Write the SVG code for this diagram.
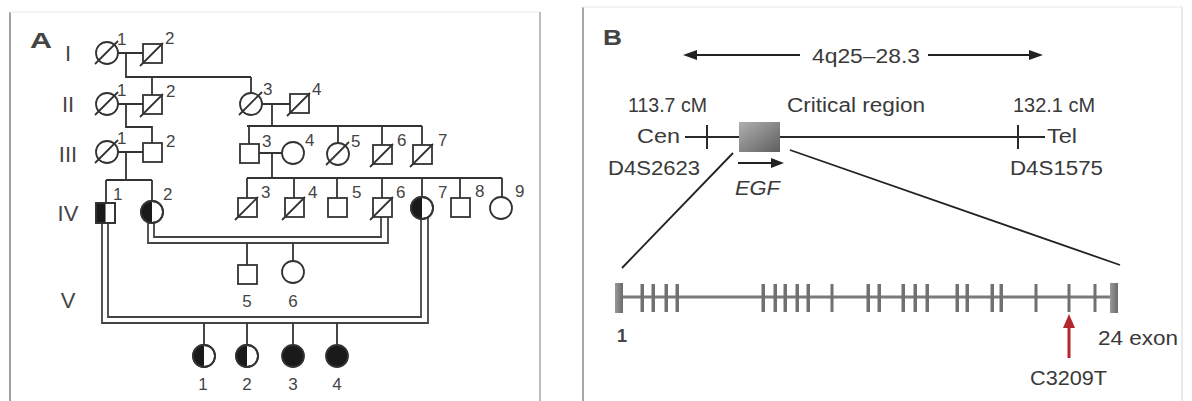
<svg xmlns="http://www.w3.org/2000/svg" width="1192" height="401" viewBox="0 0 1192 401">
<defs>
<style>
.sym{fill:#fff;stroke:#333;stroke-width:1.8}
.blk{fill:#1a1a1a;stroke:none}
.ln{stroke:#333;stroke-width:1.8;fill:none}
.dbl{stroke:#444;stroke-width:1.8;fill:none}
.t{font-family:"Liberation Sans",Arial,sans-serif;fill:#444}
.lbl{font-size:17px}
.gen{font-size:22px;text-anchor:middle}
.num{font-size:17px;text-anchor:middle}
.b{font-size:20px;fill:#3a3a3a}
.tick{fill:#707070}
</style>
<linearGradient id="gbox" x1="0" y1="0" x2="1" y2="1">
<stop offset="0" stop-color="#b0b0b0"/>
<stop offset="1" stop-color="#5e5e5e"/>
</linearGradient>
<linearGradient id="gex" x1="0" y1="0" x2="1" y2="0">
<stop offset="0" stop-color="#999"/>
<stop offset="1" stop-color="#6a6a6a"/>
</linearGradient>
</defs>
<rect width="1192" height="401" fill="#fff"/>

<!-- panel frames -->
<g id="frames">
<line x1="10" y1="12" x2="10" y2="401" stroke="#a0a0a0" stroke-width="2"/>
<line x1="10" y1="12" x2="540" y2="12" stroke="#f0f0f0" stroke-width="1.5"/>
<line x1="540" y1="12" x2="540" y2="401" stroke="#bdbdbd" stroke-width="2"/>
<line x1="583" y1="7" x2="583" y2="401" stroke="#a8a8a8" stroke-width="2"/>
<line x1="583" y1="7" x2="1182" y2="7" stroke="#f0f0f0" stroke-width="1.5"/>
<line x1="1182" y1="7" x2="1182" y2="401" stroke="#e2e2e2" stroke-width="1.5"/>
</g>

<!-- Panel A labels -->
<g id="panelA-labels">
<text class="t" x="30" y="48" font-size="22" font-weight="bold" fill="#222" textLength="22" lengthAdjust="spacingAndGlyphs">A</text>
<text class="t gen" x="68" y="61">I</text>
<text class="t gen" x="68" y="112">II</text>
<text class="t gen" x="68" y="162">III</text>
<text class="t gen" x="68" y="221">IV</text>
<text class="t gen" x="68" y="308">V</text>
</g>

<!-- connectors -->
<g id="connectors">
<path class="ln" d="M118,53H143M126,53V77H251M152,77V95M251,77V93"/>
<path class="ln" d="M118,104H143M126,104V127H152V143"/>
<path class="ln" d="M262,104H290M272,104V126M247,126H422M249,126V144M338,126V143M382,126V145M422,126V145"/>
<path class="ln" d="M118,152H143M126,152V180M106,180H152M106,180V203M152,180V201"/>
<path class="ln" d="M259,153H282M272,153V178M247,178H502M247,178V198M294,178V198M337,178V198M382,178V198M422,178V197M460,178V198M502,178V197"/>
<path class="dbl" d="M148,222V243H388V217"/>
<path class="dbl" d="M154,223V237H381V217"/>
<path class="ln" d="M247,243V265M293,243V261"/>
<path class="dbl" d="M102,223V323H428V217"/>
<path class="dbl" d="M108,223V317H421V219"/>
<path class="ln" d="M204,323V345M247,323V345M293,323V345M337,323V345"/>
</g>

<!-- Generation I -->
<g id="I-1"><circle class="sym" cx="107" cy="53" r="11"/><line class="ln" x1="95" y1="64" x2="118" y2="41"/><text class="t lbl" x="117" y="45">1</text></g>
<g id="I-2"><rect class="sym" x="143" y="44" width="19" height="19"/><line class="ln" x1="140" y1="66" x2="163" y2="43"/><text class="t lbl" x="165" y="44">2</text></g>

<!-- Generation II -->
<g id="II-1"><circle class="sym" cx="107" cy="104" r="11"/><line class="ln" x1="95" y1="115" x2="118" y2="92"/><text class="t lbl" x="117" y="96">1</text></g>
<g id="II-2"><rect class="sym" x="143" y="95" width="19" height="19"/><line class="ln" x1="140" y1="117" x2="163" y2="94"/><text class="t lbl" x="166" y="97">2</text></g>
<g id="II-3"><circle class="sym" cx="251" cy="104" r="11"/><line class="ln" x1="239" y1="115" x2="262" y2="92"/><text class="t lbl" x="263" y="95">3</text></g>
<g id="II-4"><rect class="sym" x="290" y="94" width="19" height="19"/><line class="ln" x1="287" y1="116" x2="310" y2="93"/><text class="t lbl" x="312" y="95">4</text></g>

<!-- Generation III -->
<g id="III-1"><circle class="sym" cx="107" cy="152" r="11"/><line class="ln" x1="95" y1="163" x2="118" y2="140"/><text class="t lbl" x="117" y="144">1</text></g>
<g id="III-2"><rect class="sym" x="143" y="143" width="19" height="19"/><text class="t lbl" x="166" y="147">2</text></g>
<g id="III-3"><rect class="sym" x="240" y="144" width="19" height="19"/><text class="t lbl" x="262" y="147">3</text></g>
<g id="III-4"><circle class="sym" cx="293" cy="153" r="11"/><text class="t lbl" x="305" y="146">4</text></g>
<g id="III-5"><circle class="sym" cx="338" cy="154" r="11"/><line class="ln" x1="326" y1="165" x2="349" y2="142"/><text class="t lbl" x="351" y="147">5</text></g>
<g id="III-6"><rect class="sym" x="373" y="145" width="19" height="19"/><line class="ln" x1="370" y1="167" x2="393" y2="144"/><text class="t lbl" x="397" y="146">6</text></g>
<g id="III-7"><rect class="sym" x="413" y="145" width="19" height="19"/><line class="ln" x1="410" y1="167" x2="433" y2="144"/><text class="t lbl" x="438" y="146">7</text></g>

<!-- Generation IV -->
<g id="IV-1"><rect class="sym" x="96" y="203" width="19" height="20"/><rect class="blk" x="96" y="203" width="9.5" height="20"/><rect x="96" y="203" width="19" height="20" fill="none" stroke="#333" stroke-width="1.8"/><text class="t lbl" x="113" y="200">1</text></g>
<g id="IV-2"><circle class="sym" cx="152" cy="212" r="11"/><path class="blk" d="M152,201A11,11 0 0 0 152,223Z"/><circle cx="152" cy="212" r="11" fill="none" stroke="#333" stroke-width="1.8"/><text class="t lbl" x="163" y="200">2</text></g>
<g id="IV-3"><rect class="sym" x="238" y="198" width="19" height="19"/><line class="ln" x1="235" y1="220" x2="258" y2="197"/><text class="t lbl" x="261" y="198">3</text></g>
<g id="IV-4"><rect class="sym" x="285" y="198" width="19" height="19"/><line class="ln" x1="282" y1="220" x2="305" y2="197"/><text class="t lbl" x="308" y="198">4</text></g>
<g id="IV-5"><rect class="sym" x="328" y="198" width="19" height="19"/><text class="t lbl" x="352" y="198">5</text></g>
<g id="IV-6"><rect class="sym" x="373" y="198" width="19" height="19"/><line class="ln" x1="370" y1="220" x2="393" y2="197"/><text class="t lbl" x="396" y="198">6</text></g>
<g id="IV-7"><circle class="sym" cx="422" cy="208" r="11"/><path class="blk" d="M422,197A11,11 0 0 0 422,219Z"/><circle cx="422" cy="208" r="11" fill="none" stroke="#333" stroke-width="1.8"/><text class="t lbl" x="438" y="198">7</text></g>
<g id="IV-8"><rect class="sym" x="451" y="198" width="19" height="19"/><text class="t lbl" x="475" y="197">8</text></g>
<g id="IV-9"><circle class="sym" cx="501" cy="208" r="11"/><text class="t lbl" x="515" y="197">9</text></g>

<!-- Generation V -->
<g id="V-5"><rect class="sym" x="238" y="265" width="19" height="19"/><text class="t num" x="247" y="307">5</text></g>
<g id="V-6"><circle class="sym" cx="293" cy="272" r="11"/><text class="t num" x="293" y="307">6</text></g>

<!-- children of consanguineous union -->
<g id="C-1"><circle class="sym" cx="204" cy="356" r="11"/><path class="blk" d="M204,345A11,11 0 0 0 204,367Z"/><circle cx="204" cy="356" r="11" fill="none" stroke="#333" stroke-width="1.8"/><text class="t num" x="203" y="390">1</text></g>
<g id="C-2"><circle class="sym" cx="247" cy="356" r="11"/><path class="blk" d="M247,345A11,11 0 0 0 247,367Z"/><circle cx="247" cy="356" r="11" fill="none" stroke="#333" stroke-width="1.8"/><text class="t num" x="247" y="390">2</text></g>
<g id="C-3"><circle cx="293" cy="356" r="11" fill="#1a1a1a" stroke="#333" stroke-width="1.8"/><text class="t num" x="293" y="390">3</text></g>
<g id="C-4"><circle cx="337" cy="356" r="11" fill="#1a1a1a" stroke="#333" stroke-width="1.8"/><text class="t num" x="337" y="390">4</text></g>

<!-- Panel B -->
<g id="panelB">
<text class="t" x="603" y="45" font-size="22" font-weight="bold" fill="#222" textLength="19" lengthAdjust="spacingAndGlyphs">B</text>
<g id="region-arrow">
<line x1="694" y1="55" x2="800" y2="55" stroke="#222" stroke-width="2"/>
<polygon points="683,55 697,50 697,60" fill="#222"/>
<line x1="928" y1="55" x2="1032" y2="55" stroke="#222" stroke-width="2"/>
<polygon points="1043,55 1029,50 1029,60" fill="#222"/>
<text class="t b" x="812" y="63" font-size="21" textLength="108" lengthAdjust="spacingAndGlyphs">4q25–28.3</text>
</g>
<text class="t b" x="628" y="112" textLength="79" lengthAdjust="spacingAndGlyphs">113.7 cM</text>
<text class="t b" x="787" y="112" font-size="21" textLength="138" lengthAdjust="spacingAndGlyphs">Critical region</text>
<text class="t b" x="1013" y="112" textLength="82" lengthAdjust="spacingAndGlyphs">132.1 cM</text>
<text class="t b" x="637" y="143" textLength="43" lengthAdjust="spacingAndGlyphs">Cen</text>
<text class="t b" x="1047" y="143" textLength="30" lengthAdjust="spacingAndGlyphs">Tel</text>
<text class="t b" x="608" y="175" textLength="92" lengthAdjust="spacingAndGlyphs">D4S2623</text>
<text class="t b" x="1010" y="175" textLength="93" lengthAdjust="spacingAndGlyphs">D4S1575</text>
<g id="chromosome">
<line x1="685" y1="137" x2="1045" y2="137" stroke="#2a2a2a" stroke-width="2"/>
<line x1="707" y1="125" x2="707" y2="149" stroke="#2a2a2a" stroke-width="2"/>
<line x1="1018" y1="125" x2="1018" y2="149" stroke="#2a2a2a" stroke-width="2"/>
</g>
<g id="EGF">
<rect x="739" y="122" width="41" height="30" fill="url(#gbox)"/>
<line x1="738" y1="163" x2="773" y2="163" stroke="#222" stroke-width="2"/>
<polygon points="784,163 771,158 771,168" fill="#222"/>
<text class="t b" x="735" y="195" font-style="italic" textLength="45" lengthAdjust="spacingAndGlyphs">EGF</text>
</g>
<g id="zoom-lines">
<line x1="733" y1="153" x2="622" y2="268" stroke="#222" stroke-width="1.8"/>
<line x1="790" y1="150" x2="1120" y2="265" stroke="#222" stroke-width="1.8"/>
</g>
<g id="gene">
<line x1="615" y1="297" x2="1118" y2="297" stroke="#7a7a7a" stroke-width="3"/>
<rect x="615" y="283" width="8" height="30" fill="url(#gex)"/>
<rect x="1110" y="283" width="8" height="30" fill="url(#gex)"/>
<g class="tick">
<rect x="640.5" y="284" width="3.5" height="28"/>
<rect x="651.5" y="284" width="3.5" height="28"/>
<rect x="664.5" y="284" width="3.5" height="28"/>
<rect x="675.5" y="284" width="3.5" height="28"/>
<rect x="761.5" y="284" width="3.5" height="28"/>
<rect x="773.5" y="284" width="3.5" height="28"/>
<rect x="783.5" y="284" width="3.5" height="28"/>
<rect x="795.5" y="284" width="3.5" height="28"/>
<rect x="806.5" y="284" width="3.5" height="28"/>
<rect x="830.5" y="284" width="3" height="28"/>
<rect x="866.5" y="284" width="3.5" height="28"/>
<rect x="877.5" y="284" width="3.5" height="28"/>
<rect x="901.5" y="284" width="3.5" height="28"/>
<rect x="913.5" y="284" width="3.5" height="28"/>
<rect x="925.5" y="284" width="3.5" height="28"/>
<rect x="955.5" y="284" width="3.5" height="28"/>
<rect x="965.5" y="284" width="3.5" height="28"/>
<rect x="990.5" y="284" width="3.5" height="28"/>
<rect x="999.5" y="284" width="3.5" height="28"/>
<rect x="1034.5" y="284" width="3" height="28"/>
<rect x="1067.5" y="284" width="3" height="28"/>
<rect x="1093.5" y="284" width="3" height="28"/>
</g>
<text class="t" x="617" y="342" font-size="18" font-weight="bold" fill="#333">1</text>
<text class="t b" x="1098" y="345" textLength="80" lengthAdjust="spacingAndGlyphs">24 exon</text>
</g>
<g id="mutation">
<line x1="1069" y1="358" x2="1069" y2="326" stroke="#b3262c" stroke-width="3"/>
<polygon points="1069,314 1063,328 1075,328" fill="#b3262c"/>
<text class="t b" x="1030" y="385" textLength="77" lengthAdjust="spacingAndGlyphs">C3209T</text>
</g>
</g>
</svg>
